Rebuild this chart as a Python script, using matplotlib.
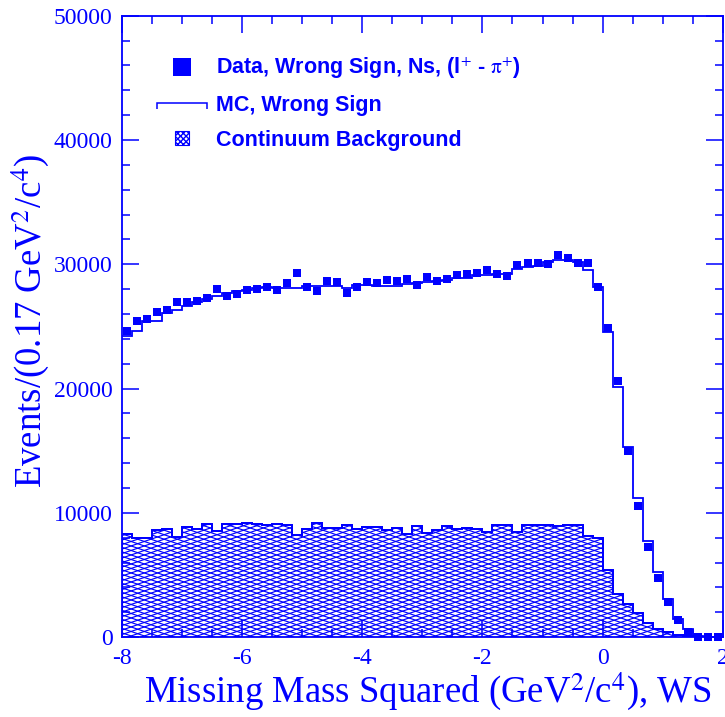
import numpy as np
import matplotlib
matplotlib.use("Agg")
import matplotlib.pyplot as plt
import matplotlib.patches as mpatches
from matplotlib.path import Path
from matplotlib.lines import Line2D
from matplotlib.collections import LineCollection
from matplotlib.transforms import IdentityTransform
from matplotlib.legend_handler import HandlerPatch
from matplotlib.ticker import MultipleLocator
from matplotlib.font_manager import FontProperties

plt.rcParams['mathtext.fontset'] = 'stix'
plt.rcParams['axes.unicode_minus'] = False

# 60 bins of 1/6 GeV^2 from -8 to 2
edges = np.linspace(-8, 2, 61)

data_ws = [24660, 25470, 25580, 26140, 26300, 26950, 26970, 27030, 27300, 28050,
           27460, 27620, 27950, 27990, 28150, 27950, 28510, 29310, 28150, 27890,
           28640, 28590, 27730, 28150, 28590, 28480, 28720, 28640, 28800, 28350,
           28960, 28670, 28830, 29120, 29230, 29310, 29560, 29200, 29040, 29980,
           30140, 30090, 30040, 30760, 30490, 30140, 30090, 28180, 24880, 20610,
           14990, 10530, 7250, 4780, 2870, 1370, 400, 50, 30, 30]

mc_ws = [24210, 24610, 25440, 25440, 26060, 26330, 26620, 26940, 27220, 27430,
         27700, 27890, 27940, 28080, 28160, 28080, 28080, 28080, 28240, 28240,
         28240, 28240, 28080, 28370, 28370, 28290, 28290, 28290, 28430, 28480,
         28560, 28640, 28750, 28880, 28880, 29100, 29100, 29180, 29230, 29630,
         29770, 29900, 30170, 30310, 30360, 30170, 29550, 28160, 24530, 20100,
         15340, 11180, 7740, 5240, 3090, 1480, 620, 130, 30, 20]

continuum = [8330, 8010, 8010, 8620, 8680, 8060, 8890, 8730, 9130, 8540,
             9130, 9130, 9220, 9130, 9000, 9110, 9030, 8190, 8680, 9160,
             8760, 8760, 9060, 8680, 8870, 8870, 8620, 8760, 8280, 8950,
             8410, 8600, 8950, 8680, 8810, 8730, 8490, 9000, 9050, 8460,
             9000, 9050, 9000, 8950, 9050, 9000, 8150, 7950, 5400, 3440,
             2710, 1910, 1160, 620, 400, 210, 80, 30, 0, 0]

blue = (0, 0, 1)
W, H = 725, 717
fig = plt.figure(figsize=(W / 100, H / 100), dpi=100)
ax_l, ax_r, ax_t, ax_b = 121.5, 723.0, 15.7, 637.2
ax = fig.add_axes([ax_l / W, 1 - ax_b / H, (ax_r - ax_l) / W, (ax_b - ax_t) / H])

centers = 0.5 * (edges[:-1] + edges[1:])

# continuum background, outlined, filled with a shallow cross hatch
bkg = ax.stairs(continuum, edges, fill=True, facecolor='white', edgecolor=blue,
                linewidth=1.3, zorder=1)
ax.stairs(continuum, edges, color=blue, linewidth=1.4, zorder=3)
x0, x1 = ax_l, ax_r
y0, y1 = H - ax_b, H - ax_t
s, d = 0.34, 4.5
segs = []
span = s * (x1 - x0)
for c in np.arange(y0 - span - d, y1 + d, d):
    segs.append([(x0, c), (x1, c + span)])
for c in np.arange(y0 - d, y1 + span + d, d):
    segs.append([(x0, c), (x1, c - span)])
lc = LineCollection(segs, colors=[blue], linewidths=0.85, transform=IdentityTransform(), zorder=2)
ax.add_collection(lc, autolim=False)
lc.set_clip_path(bkg)

# MC histogram
ax.stairs(mc_ws, edges, baseline=None, color=blue, linewidth=1.3, zorder=4)

# data points
ax.plot(centers, data_ws, 's', color=blue, ms=5.6, mew=0, clip_on=False, zorder=5)

ax.set_xlim(-8, 2)
ax.set_ylim(0, 50000)
ax.xaxis.set_major_locator(MultipleLocator(2))
ax.xaxis.set_minor_locator(MultipleLocator(0.5))
ax.yaxis.set_major_locator(MultipleLocator(10000))
ax.yaxis.set_minor_locator(MultipleLocator(2000))
ax.tick_params(which='both', direction='in', top=True, right=True, color=blue,
               width=1.1, labelcolor=blue, labelsize=17)
ax.tick_params(which='major', length=12)
ax.tick_params(which='minor', length=6)
ax.tick_params(axis='x', pad=8)
ax.tick_params(axis='y', pad=6.5)
for lab in ax.get_xticklabels() + ax.get_yticklabels():
    lab.set_family('Liberation Serif')
for sp in ax.spines.values():
    sp.set_color(blue)
    sp.set_linewidth(1.3)

ax.set_xlabel(r'Missing Mass Squared (GeV$^{2}$/c$^{4}$), WS', family='Liberation Serif',
              fontsize=26.5, color=blue)
ax.xaxis.set_label_coords(0.51, -0.054)
ax.set_ylabel(r'Events/(0.17 GeV$^{2}$/c$^{4}$)', family='Liberation Serif',
              fontsize=26.5, color=blue)
ax.yaxis.set_label_coords(-0.115, 0.51)


def box_handle(legend, orig_handle, xdescent, ydescent, width, height, fontsize):
    w, h = 10, 10
    return mpatches.Rectangle((-xdescent + width / 2 - w / 2, -ydescent + height / 2 - h / 2), w, h)


def bracket_handle(legend, orig_handle, xdescent, ydescent, width, height, fontsize):
    yc = -ydescent + height / 2
    verts = [(-xdescent, yc - 4), (-xdescent, yc), (-xdescent + width, yc), (-xdescent + width, yc - 4)]
    return mpatches.PathPatch(Path(verts))


h_data = Line2D([], [], marker='s', ls='none', color=blue, ms=12.5, mew=0)
h_mc = mpatches.Patch(facecolor='none', edgecolor=blue, linewidth=1.1)
h_bkg = mpatches.Patch(facecolor='white', edgecolor=blue, hatch='xxxxxx', linewidth=0.8)
leg = ax.legend([h_data, h_mc, h_bkg],
                [r'Data, Wrong Sign, Ns, (l$^{+}$ - $\mathrm{\pi}^{+}$)', 'MC, Wrong Sign', 'Continuum Background'],
                handler_map={h_mc: HandlerPatch(patch_func=bracket_handle),
                             h_bkg: HandlerPatch(patch_func=box_handle)},
                loc='upper left', bbox_to_anchor=((157 - ax_l) / (ax_r - ax_l), (ax_b - 56) / (ax_b - ax_t)),
                frameon=False, borderpad=0, borderaxespad=0, handlelength=2.3, handletextpad=0.42,
                labelspacing=0.63, labelcolor=blue,
                prop=FontProperties(family='Liberation Sans', weight='bold', size=15.5))

fig.savefig('out.png', dpi=100)
